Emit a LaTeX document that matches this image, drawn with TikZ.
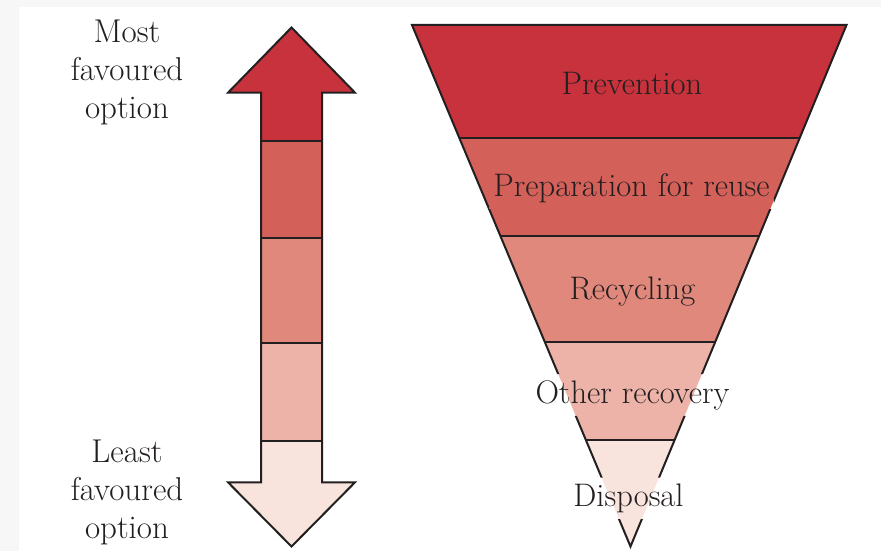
\documentclass[tikz,border=0pt]{standalone}
\usepackage{fontspec}
\usetikzlibrary{calc}
\definecolor{cA}{RGB}{199,50,60}
\definecolor{cB}{RGB}{212,96,90}
\definecolor{cC}{RGB}{224,136,123}
\definecolor{cD}{RGB}{237,179,169}
\definecolor{cE}{RGB}{248,227,221}
\definecolor{ink}{RGB}{35,31,32}
\definecolor{edge}{RGB}{247,247,247}
\tikzset{
  outline/.style={draw=ink, line width=2pt},
  lbl/.style={text=ink, font=\fontsize{32.6}{38}\selectfont, inner xsep=4pt, inner ysep=6pt},
  sidelbl/.style={text=ink, font=\fontsize{33}{38}\selectfont, align=center},
}
\begin{document}
\begin{tikzpicture}[x=1pt,y=-1pt]
\useasboundingbox (0,0) rectangle (881,551);
\fill[white] (0,0) rectangle (881,551);
\fill[edge] (0,0) rectangle (881,7);
\fill[edge] (0,0) rectangle (19,551);

% ---------- arrow ----------
\coordinate (tipU) at (291.5,27.5);
\coordinate (tipD) at (291.5,546.5);
\def\arrowpath{(tipU) -- (355,92.7) -- (322,92.7) -- (322,482.3) -- (355,482.3) -- (tipD) -- (228,482.3) -- (261,482.3) -- (261,92.7) -- (228,92.7) -- cycle}
\begin{scope}
  \clip \arrowpath;
  \fill[cA] (220,20) rectangle (360,141);
  \fill[cB] (220,141) rectangle (360,238);
  \fill[cC] (220,238) rectangle (360,343);
  \fill[cD] (220,343) rectangle (360,441);
  \fill[cE] (220,441) rectangle (360,550);
  \draw[outline] (220,141) -- (360,141) (220,238) -- (360,238)
                 (220,343) -- (360,343) (220,441) -- (360,441);
\end{scope}
\draw[outline] \arrowpath;

% ---------- side labels ----------
\node[sidelbl] (most) at (127,72) {Most\\favoured\\option};
\node[sidelbl] (least) at (127,492) {Least\\favoured\\option};

% ---------- inverted triangle ----------
\coordinate (TL) at (412,25);
\coordinate (TR) at (846.5,25);
\coordinate (AP) at (630.5,546.5);
\begin{scope}
  \clip (TL) -- (TR) -- (AP) -- cycle;
  \fill[cA] (400,20) rectangle (860,138);
  \fill[cB] (400,138) rectangle (860,236);
  \fill[cC] (400,236) rectangle (860,342);
  \fill[cD] (400,342) rectangle (860,440);
  \fill[cE] (400,440) rectangle (860,550);
  \draw[outline] (400,138) -- (860,138) (400,236) -- (860,236)
                 (400,342) -- (860,342) (400,440) -- (860,440);
\end{scope}

\node[lbl, anchor=base] (prev) at (632,95) {Prevention};
\node[lbl, anchor=base] (prep) at (631.5,196.5) {Preparation for reuse};
\node[lbl, anchor=base] (recy) at (632.5,299) {Recycling};
\node[lbl, anchor=base] (othr) at (632.5,403) {Other recovery};
\node[lbl, anchor=base] (disp) at (628.5,506.5) {Disposal};

\begin{scope}[even odd rule]
  \clip (0,0) rectangle (881,551)
    (prep.south west) rectangle (prep.north east)
    (othr.south west) rectangle (othr.north east)
    (disp.south west) rectangle (disp.north east);
  \draw[outline] (TL) -- (TR) -- (AP) -- cycle;
\end{scope}
\end{tikzpicture}
\end{document}
